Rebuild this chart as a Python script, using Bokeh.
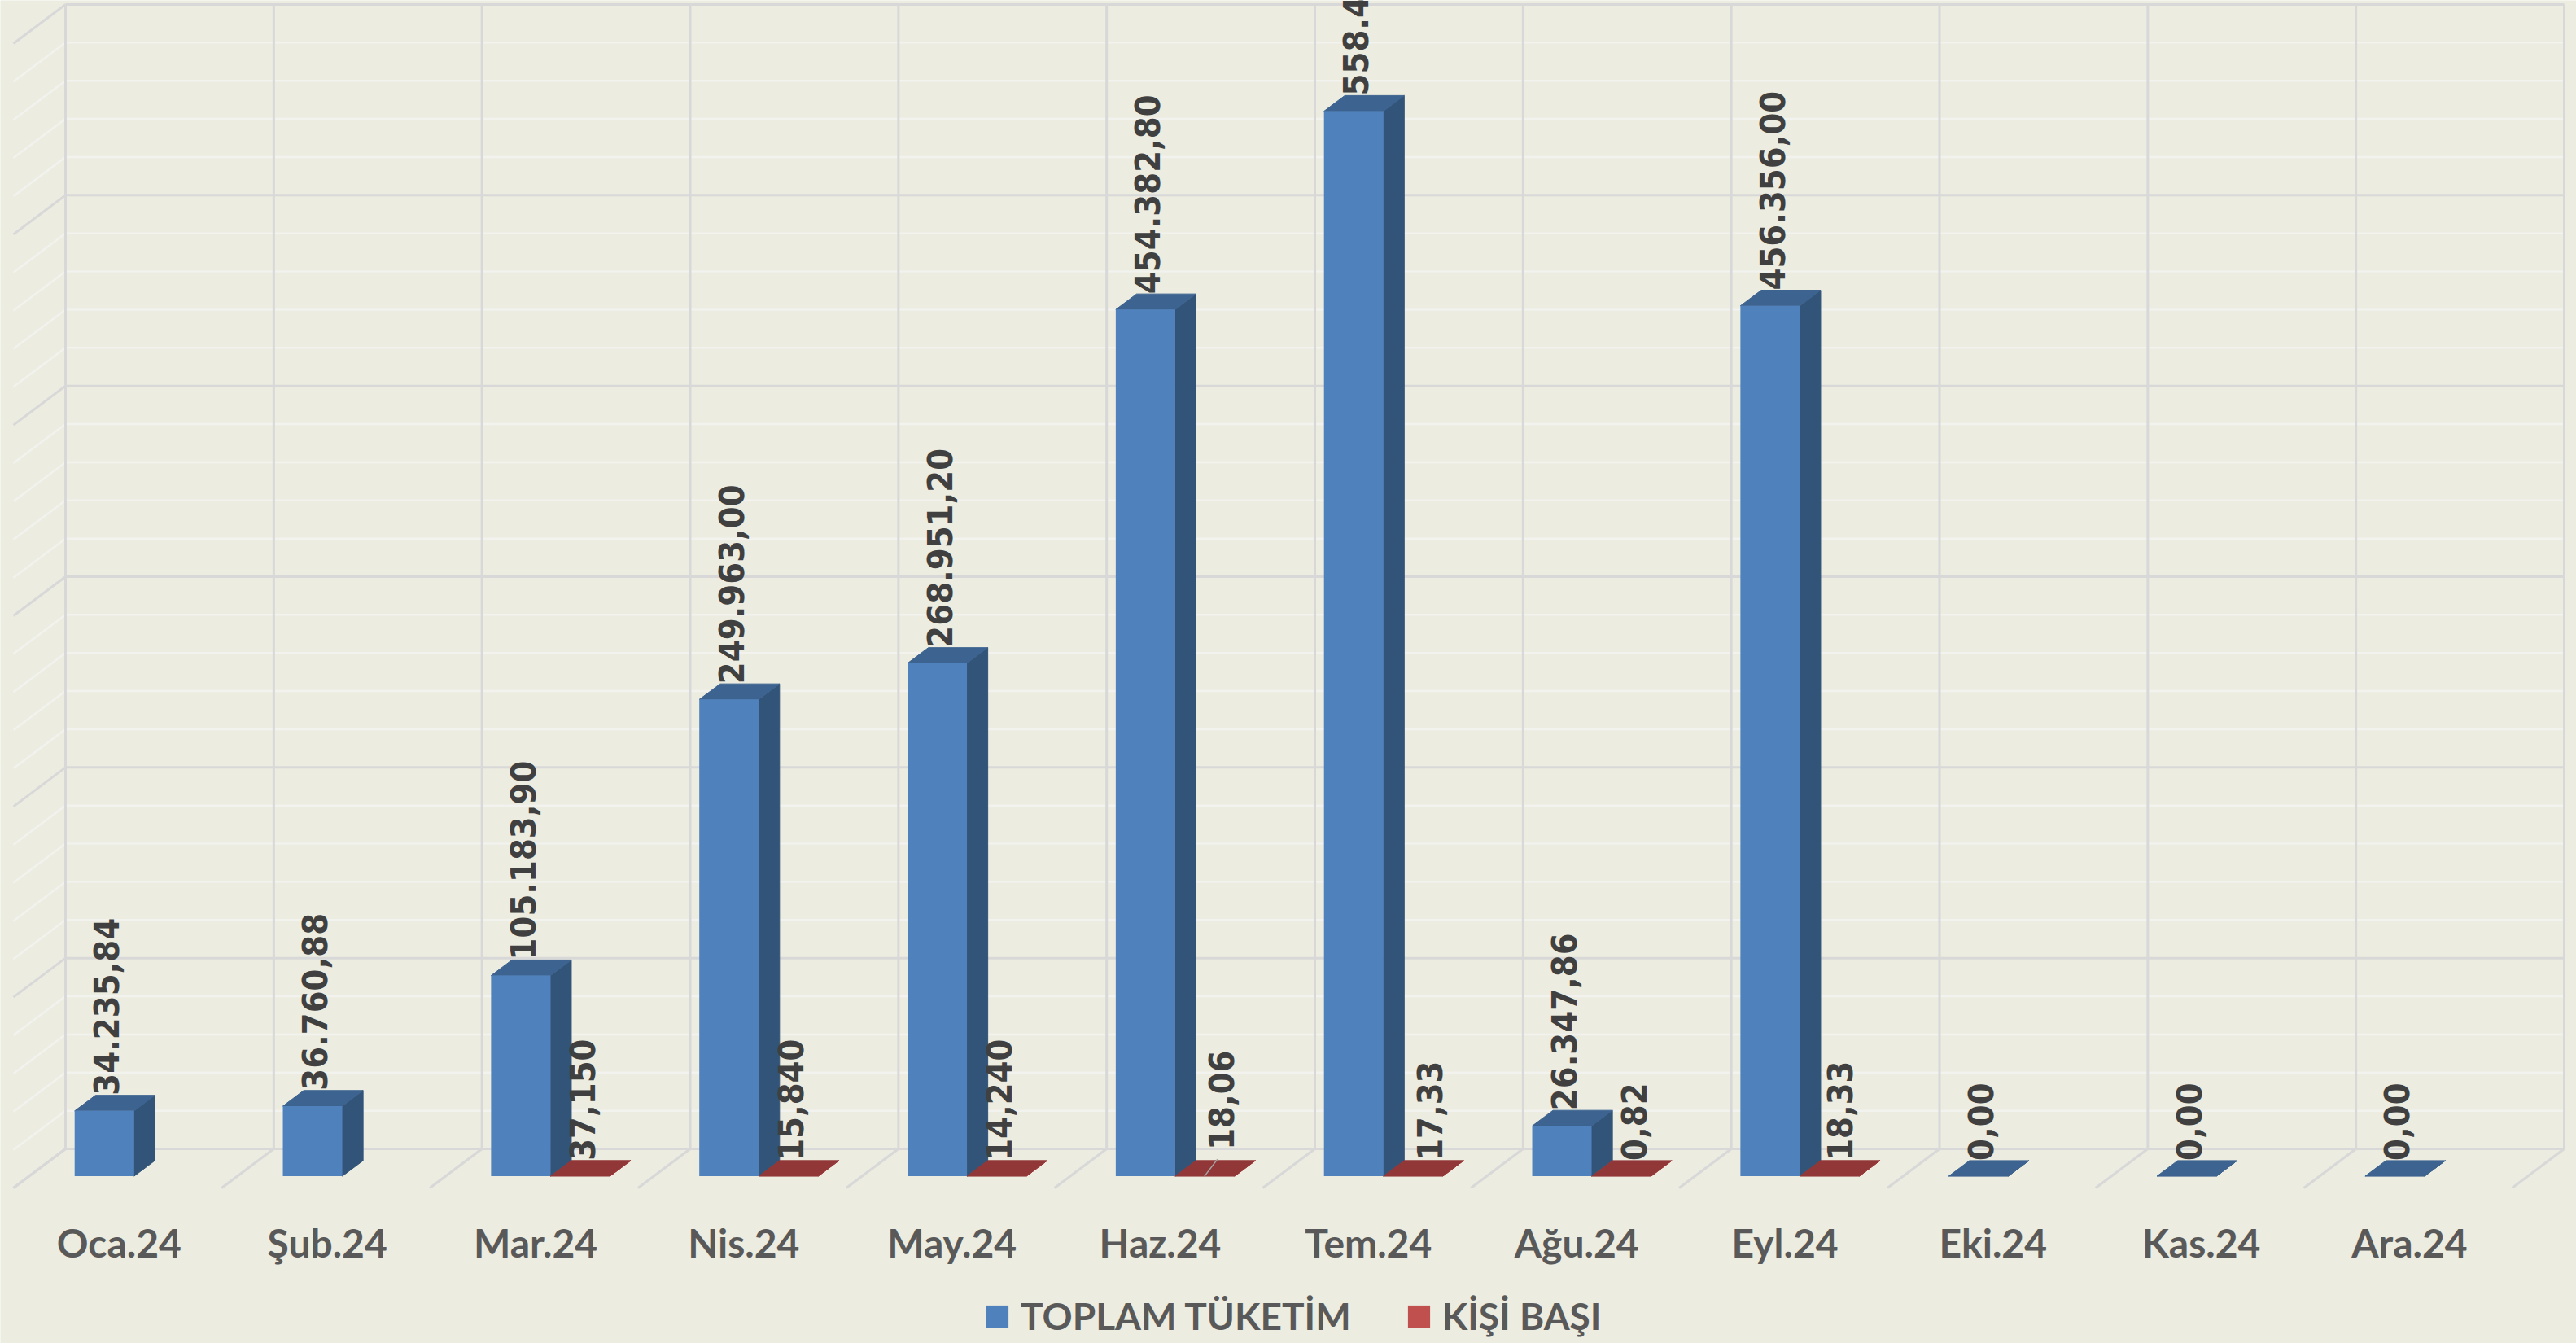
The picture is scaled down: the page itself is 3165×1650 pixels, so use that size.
from bokeh.plotting import figure
from bokeh.embed import file_html
from bokeh.resources import INLINE
from bokeh.models import Range1d, LinearAxis, FixedTicker, Legend, LegendItem
from bokeh.core.properties import value
import math

# ---------- data ----------
months = ["Oca.24", "Şub.24", "Mar.24", "Nis.24", "May.24", "Haz.24", "Tem.24",
          "Ağu.24", "Eyl.24", "Eki.24", "Kas.24", "Ara.24"]
toplam = [34235.84, 36760.88, 105183.90, 249963.00, 268951.20, 454382.80,
          558400.00, 26347.86, 456356.00, 0.0, 0.0, 0.0]
toplam_labels = ["34.235,84", "36.760,88", "105.183,90", "249.963,00", "268.951,20",
                 "454.382,80", "558.4", "26.347,86", "456.356,00", "0,00", "0,00", "0,00"]
kisi = [None, None, 37.150, 15.840, 14.240, 18.06, 17.33, 0.82, 18.33, None, None, None]
kisi_labels = ["", "", "37,150", "15,840", "14,240", "18,06", "17,33", "0,82", "18,33", "", "", ""]
series_names = ["TOPLAM TÜKETİM", "KİŞİ BAŞI"]
y_max = 600000
major_step = 100000
minor_step = 20000

# ---------- page geometry / 3D projection ----------
W, H = 3165, 1650
PX_X = (3150 - 80) / 12           # px per category
PX_Y = (1411 - 5) / y_max         # px per value unit
DEPTH_X = -64 / PX_X              # whole floor depth in category units
DEPTH_Y = -48 / PX_Y              # whole floor depth in value units
D_FRONT, D_BACK = 0.70, 0.30      # bar depth positions on the floor
BAR_W = 73 / PX_X
BAR_OFF = 56 / PX_X

BG = "#ECECE0"
MAJOR = "#D8D8D8"
MINOR = "#F2F2EE"
BLUE, BLUE_SIDE, BLUE_TOP = "#4F81BD", "#325479", "#3D6390"
RED, RED_TOP = "#C0504D", "#923738"
LABEL = "#404040"
AXIS_TXT = "#595959"

p = figure(width=W, height=H, output_backend="svg", toolbar_location=None,
           x_range=Range1d(-80 / PX_X, (W - 80) / PX_X),
           y_range=Range1d(-(H - 1411) / PX_Y, y_max + 5 / PX_Y),
           background_fill_color=BG, border_fill_color=BG,
           outline_line_color=None, min_border=0, x_axis_type=None, y_axis_type=None)
p.grid.visible = False


def proj(x, v, d):
    return x + d * DEPTH_X, v + d * DEPTH_Y


# ---------- walls ----------
n = len(months)
minor_vals = [v for v in range(0, y_max + 1, minor_step) if v % major_step]
major_vals = list(range(0, y_max + 1, major_step))

for vals, col, w in ((minor_vals, MINOR, 2.5), (major_vals, MAJOR, 3)):
    p.multi_line([[0, n] for _ in vals], [[v, v] for v in vals], line_color=col, line_width=w)
    p.multi_line([[0, proj(0, v, 1)[0]] for v in vals],
                 [[v, proj(0, v, 1)[1]] for v in vals], line_color=col, line_width=w)
p.multi_line([[i, i] for i in range(n + 1)], [[0, y_max] for _ in range(n + 1)],
             line_color=MAJOR, line_width=3)
p.multi_line([[i, proj(i, 0, 1)[0]] for i in range(n + 1)],
             [[0, proj(i, 0, 1)[1]] for i in range(n + 1)],
             line_color=MAJOR, line_width=3)


# ---------- 3D bars ----------
def bar_faces(i, slot, v):
    x0 = i + BAR_OFF + slot * BAR_W
    x1 = x0 + BAR_W
    fl, fb = proj(x0, 0, D_FRONT)
    fr, ft = proj(x1, v, D_FRONT)
    bl, bb = proj(x0, 0, D_BACK)
    br, bt = proj(x1, v, D_BACK)
    return dict(fl=fl, fr=fr, fb=fb, ft=ft, bl=bl, br=br, bb=bb, bt=bt)


def draw_series(slot, values, front, side, top):
    idx = [i for i, v in enumerate(values) if v is not None]
    F = [bar_faces(i, slot, values[i]) for i in idx]
    p.patches([[f["fr"], f["br"], f["br"], f["fr"]] for f in F],
              [[f["fb"], f["bb"], f["bt"], f["ft"]] for f in F],
              fill_color=side, line_color=side, line_width=1)
    p.patches([[f["fl"], f["fr"], f["br"], f["bl"]] for f in F],
              [[f["ft"], f["ft"], f["bt"], f["bt"]] for f in F],
              fill_color=top, line_color=top, line_width=1)
    return p.quad(left=[f["fl"] for f in F], right=[f["fr"] for f in F],
                  bottom=[f["fb"] for f in F], top=[f["ft"] for f in F],
                  fill_color=front, line_color=None)


r_blue = draw_series(0, toplam, BLUE, BLUE_SIDE, BLUE_TOP)
r_red = draw_series(1, kisi, RED, RED, RED_TOP)

# leader line of the moved "18,06" label
haz = bar_faces(5, 1, kisi[5])
p.line([haz["fl"] + 36 / PX_X, haz["fl"] + 52 / PX_X],
       [haz["fb"], haz["fb"] + 21 / PX_Y], line_color="#A6A6A6", line_width=1.5)

# ---------- data labels ----------
LBL_FONT = value("DejaVu Sans Condensed")
LBL_SIZE = "43px"
base_dx = 39 / PX_X
# hand-moved labels in the original: slot, category -> (dx px, dy px)
nudge = {(1, 5): (18, 13), (1, 6): (18, 0), (1, 7): (13, 0), (1, 8): (10, 0)}


def draw_labels(slot, values, labels):
    xs, ys, ts = [], [], []
    for i, (v, t) in enumerate(zip(values, labels)):
        if v is None or not t:
            continue
        f = bar_faces(i, slot, v)
        dx, dy = nudge.get((slot, i), (0, 0))
        xs.append(f["fl"] + base_dx + dx / PX_X)
        ys.append(f["bt"] + dy / PX_Y)
        ts.append(t)
    p.text(xs, ys, text=ts, angle=math.pi / 2, text_font=LBL_FONT, text_font_size=LBL_SIZE,
           text_font_style="bold", text_color=LABEL, text_align="left",
           text_baseline="alphabetic")


draw_labels(0, toplam, toplam_labels)
draw_labels(1, kisi, kisi_labels)

# ---------- category axis ----------
tick_x = [i + 0.5 + DEPTH_X * 0.97 for i in range(n)]
xax = LinearAxis(ticker=FixedTicker(ticks=tick_x),
                 major_label_overrides={t: m for t, m in zip(tick_x, months)},
                 fixed_location=-(1491 - 1411) / PX_Y,
                 axis_line_color=None, major_tick_line_color=None, minor_tick_line_color=None,
                 major_label_text_font="Lato", major_label_text_font_style="bold",
                 major_label_text_font_size="48px", major_label_text_color=AXIS_TXT,
                 major_label_standoff=0, major_label_orientation="horizontal")
p.add_layout(xax, "below")

# ---------- legend ----------
legend = Legend(items=[LegendItem(label=series_names[0], renderers=[r_blue]),
                       LegendItem(label=series_names[1], renderers=[r_red])],
                orientation="horizontal", location=(1208, 6),
                background_fill_alpha=0, border_line_alpha=0, margin=0, padding=0,
                glyph_width=34, glyph_height=34, label_standoff=12, spacing=66,
                label_text_font="Lato", label_text_font_style="bold",
                label_text_font_size="46px", label_text_color=AXIS_TXT)
p.add_layout(legend, "center")

open("out.html", "w").write(file_html(p, INLINE))
